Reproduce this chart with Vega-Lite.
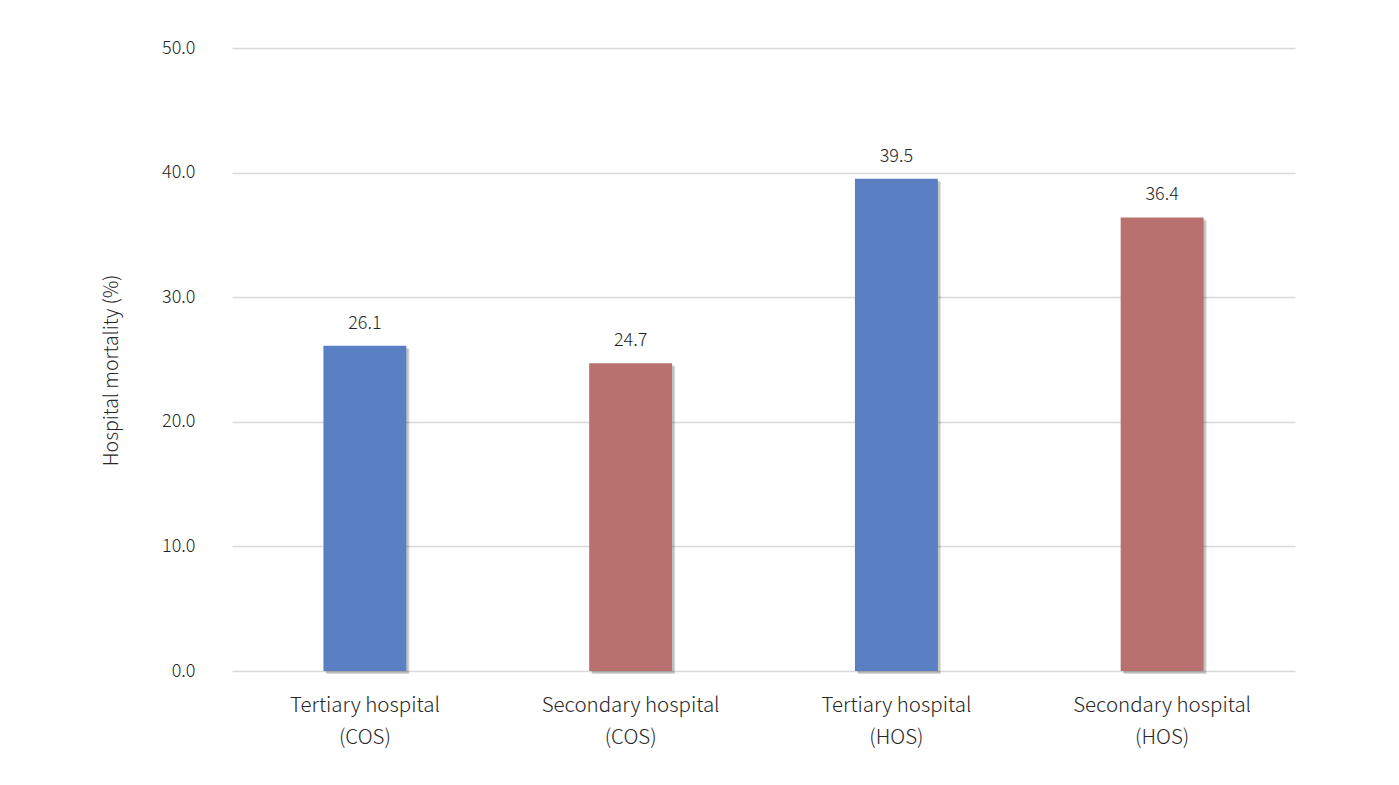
{
  "$schema": "https://vega.github.io/schema/vega-lite/v6.json",
  "width": 1063,
  "height": 623,
  "autosize": "none",
  "padding": {"left": 232, "top": 48, "right": 104, "bottom": 114},
  "background": "white",
  "config": {
    "view": {"stroke": null},
    "font": "Noto Sans CJK KR",
    "axis": {"labelFont": "Noto Sans CJK KR", "titleFont": "Noto Sans CJK KR", "labelColor": "#262626", "titleColor": "#262626"}
  },
  "data": {
    "values": [
      {"group": "Tertiary hospital|(COS)", "type": "Tertiary", "value": 26.1},
      {"group": "Secondary hospital|(COS)", "type": "Secondary", "value": 24.7},
      {"group": "Tertiary hospital|(HOS)", "type": "Tertiary", "value": 39.5},
      {"group": "Secondary hospital|(HOS)", "type": "Secondary", "value": 36.4}
    ]
  },
  "encoding": {
    "x": {
      "field": "group", "type": "nominal", "sort": null,
      "scale": {"paddingInner": 0.688, "paddingOuter": 0.344},
      "axis": {
        "title": null, "labelAngle": 0, "domain": false, "ticks": false,
        "labelExpr": "split(datum.value, '|')",
        "labelFontSize": 20.5, "labelFontWeight": 300, "labelLineHeight": 32, "labelPadding": 24, "labelBaseline": "top"
      }
    },
    "y": {
      "field": "value", "type": "quantitative",
      "scale": {"domain": [0, 50]},
      "axis": {
        "title": "Hospital mortality (%)", "titleFontSize": 19.5, "titleFontWeight": 300, "titlePadding": 40, "titleY": 322,
        "values": [0, 10, 20, 30, 40, 50], "format": ".1f",
        "labelFontSize": 18, "labelFontWeight": 300, "labelPadding": 37, "domain": false, "ticks": false,
        "gridColor": "#d9d9d9", "gridWidth": 1.5
      }
    }
  },
  "layer": [
    {
      "mark": {"type": "bar", "xOffset": 3, "yOffset": 3, "color": "#000000", "opacity": 0.15}
    },
    {
      "mark": {"type": "bar", "xOffset": 2, "yOffset": 2, "color": "#000000", "opacity": 0.1}
    },
    {
      "mark": {"type": "bar"},
      "encoding": {
        "color": {
          "field": "type", "type": "nominal",
          "scale": {"domain": ["Tertiary", "Secondary"], "range": ["#5a7fc2", "#b8716f"]},
          "legend": null
        }
      }
    },
    {
      "mark": {"type": "text", "baseline": "bottom", "dy": -13, "fontSize": 18, "fontWeight": 300, "color": "#262626"},
      "encoding": {
        "text": {"field": "value", "type": "quantitative", "format": ".1f"}
      }
    }
  ]
}
